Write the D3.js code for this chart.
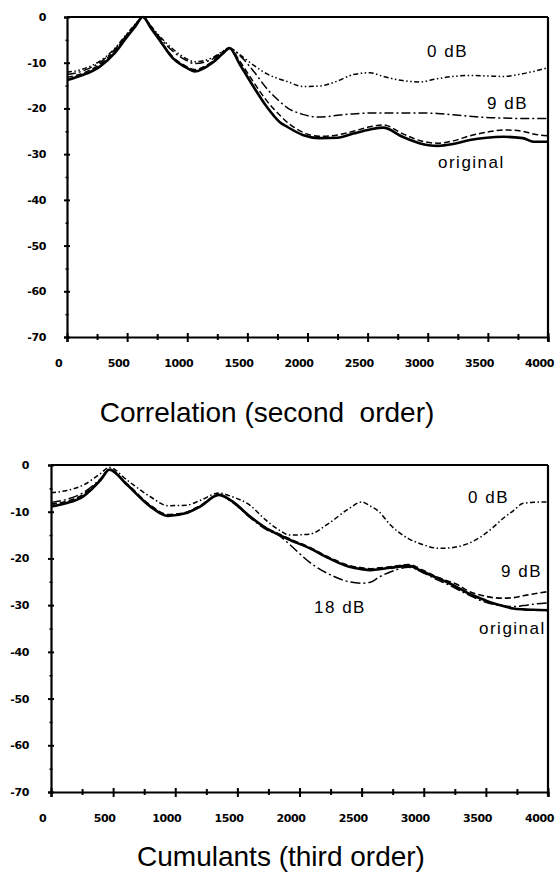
<!DOCTYPE html>
<html>
<head>
<meta charset="utf-8">
<script src="https://cdn.jsdelivr.net/npm/d3@7"></script>
<style>
  body { margin: 0; background: #fff; }
  .tick text { font-family: "DejaVu Sans", sans-serif; font-weight: bold; font-size: 11px; letter-spacing: -0.4px; }
  .lbl { font-family: "Liberation Sans", Arial, sans-serif; font-size: 17px; letter-spacing: 1.5px; }
  .title { font-family: "Liberation Sans", Arial, sans-serif; font-size: 28px; }
</style>
</head>
<body>
<svg id="chart" width="555" height="874"></svg>
<script>
// --- Correlation (second order) ---
var corrFreq = [0,130,270,400,500,570,630,700,750,880,1000,1060,1210,1300,1350,1440,1550,1660,1770,1830,1960,2100,2250,2380,2520,2630,2790,2930,3080,3210,3350,3490,3630,3790,3880,4000];
var corrOriginal = [-13.8,-12.7,-10.9,-7.8,-4.3,-2,0,-2.5,-4.3,-9,-11.2,-11.9,-10,-7.9,-6.8,-10.5,-15.2,-19.6,-23,-24,-25.8,-26.5,-26.4,-25.5,-24.6,-24.2,-26.2,-27.6,-28.2,-27.8,-26.9,-26.4,-26.2,-26.5,-27.3,-27.3];
var corr18dB = [-13.2,-12.3,-10.4,-7.3,-3.9,-1.7,0,-2.3,-4.1,-8.7,-10.9,-11.5,-9.7,-7.7,-6.8,-9.8,-14.2,-18.3,-21.5,-23,-25.2,-26.1,-25.8,-25,-24,-23.6,-25.5,-27,-27.6,-27.1,-26,-25.2,-24.7,-25,-25.6,-26];
var corr9dB = [-12.6,-11.8,-10,-7,-3.8,-1.6,0,-2.2,-3.8,-7.5,-9.6,-10.2,-9.2,-7.5,-6.8,-8.5,-11.8,-15.6,-18.5,-19.8,-21.3,-21.9,-21.5,-21.2,-21,-21,-21,-21,-21.1,-21.4,-21.7,-22,-22.1,-22.2,-22.2,-22.2];
var corr0dB = [-12.1,-11.4,-9.7,-6.8,-3.6,-1.5,0,-2,-3.6,-7,-9.2,-9.8,-8.9,-7.4,-6.8,-8.3,-10.5,-12.4,-13.6,-14.1,-15.2,-15.1,-14,-12.6,-12.2,-13,-13.9,-14.2,-13.5,-13,-12.8,-12.9,-13,-12.4,-11.9,-11.1];

// --- Cumulants (third order) ---
var cumFreq = [0,120,260,400,470,610,800,940,1090,1200,1350,1460,1600,1730,1840,1920,2080,2240,2400,2500,2570,2640,2730,2880,2990,3110,3180,3270,3360,3480,3560,3640,3720,3800,3880,4000];
var cumOriginal = [-8.9,-8.2,-6.7,-3.2,-1,-4.2,-8.9,-10.9,-10.3,-8.9,-6.4,-7.8,-11,-13.5,-15,-16,-17.8,-20,-21.8,-22.3,-22.5,-22.3,-22,-21.6,-22.8,-24.2,-25,-26.2,-27.5,-28.8,-29.6,-30.2,-30.7,-30.9,-31,-31.1];
var cum9dB = [-8.4,-7.8,-6.3,-3,-1,-4,-8.6,-10.6,-10.1,-8.7,-6.4,-7.9,-11,-13.4,-14.8,-15.8,-17.6,-19.8,-21.5,-22,-22.2,-22,-21.8,-21.3,-22.5,-24,-24.7,-25.6,-27,-28,-28.4,-28.5,-28.4,-28,-27.6,-27.1];
var cum18dB = [-8,-7.4,-5.9,-2.9,-1,-4.1,-8.8,-10.8,-10.2,-8.8,-6.4,-8,-11.2,-13.8,-15.2,-17,-20.8,-23.4,-25,-25.3,-25.1,-24,-22.9,-21.9,-23,-24.6,-25.4,-26.6,-27.8,-29.2,-29.8,-30.2,-30.3,-30.1,-29.8,-29.5];
var cum0dB = [-5.9,-5.5,-4.3,-1.8,-0.5,-3.2,-6.8,-8.7,-8.6,-7.6,-6,-6.8,-8.6,-11.8,-14,-15,-14.8,-12.4,-9.3,-7.9,-8.8,-10,-12.8,-15.8,-17,-17.8,-17.8,-17.5,-16.8,-15,-13.3,-11.4,-9.8,-8.2,-8,-7.9];

var xMajor = [0,500,1000,1500,2000,2500,3000,3500,4000];
var xMinor = [250,750,1250,1750,2250,2750,3250,3750];
var yMajor = [0,-10,-20,-30,-40,-50,-60,-70];
var yMinor = [-5,-15,-25,-35,-45,-55,-65];

var svg = d3.select("#chart");

function drawPanel(p) {
  var x = d3.scaleLinear().domain([0, 4000]).range([p.left, p.right]);
  var y = d3.scaleLinear().domain([-70, 0]).range([p.bottom, p.top]);
  var g = svg.append("g");

  // frame: top and right
  g.append("line").attr("x1", p.left).attr("x2", p.right).attr("y1", p.top).attr("y2", p.top)
    .attr("stroke", "#000").attr("stroke-width", 2);
  g.append("line").attr("x1", p.right).attr("x2", p.right).attr("y1", p.top).attr("y2", p.bottom + 4)
    .attr("stroke", "#000").attr("stroke-width", 2.2);

  // x axis
  var xa = g.append("g").attr("transform", "translate(0," + p.bottom + ")")
    .call(d3.axisBottom(x).tickValues(xMajor).tickFormat(function (d) { return String(d); }).tickSize(5));
  xa.select(".domain").attr("stroke-width", 2.2);
  xa.selectAll(".tick line").attr("y1", -4).attr("y2", 5).attr("stroke-width", 2);
  xa.selectAll(".tick text").attr("y", 22).attr("dx", -9).attr("dy", "0.71em").attr("font-size", null).attr("font-family", null);
  var xm = g.append("g").attr("transform", "translate(0," + p.bottom + ")")
    .call(d3.axisBottom(x).tickValues(xMinor).tickFormat("").tickSize(3));
  xm.select(".domain").remove();
  xm.selectAll(".tick line").attr("y1", -3).attr("y2", 3).attr("stroke-width", 2);

  // y axis
  var ya = g.append("g").attr("transform", "translate(" + p.left + ",0)")
    .call(d3.axisLeft(y).tickValues(yMajor).tickFormat(function (d) { return String(d); }).tickSize(3));
  ya.select(".domain").attr("stroke-width", 2.2);
  ya.selectAll(".tick line").attr("x1", -3).attr("x2", 3).attr("stroke-width", 2);
  ya.selectAll(".tick text").attr("x", -p.labelGap).attr("font-size", null).attr("font-family", null);
  var ym = g.append("g").attr("transform", "translate(" + p.left + ",0)")
    .call(d3.axisLeft(y).tickValues(yMinor).tickFormat("").tickSize(2));
  ym.select(".domain").remove();
  ym.selectAll(".tick line").attr("x1", -1.5).attr("x2", 1.5).attr("stroke-width", 1.5);

  var line = d3.line()
    .x(function (d) { return x(d[0]); })
    .y(function (d) { return y(d[1]); })
    .curve(d3.curveMonotoneX);

  p.series.forEach(function (s) {
    var pts = p.freq.map(function (f, i) { return [f, s.values[i]]; });
    g.append("path")
      .attr("d", line(pts))
      .attr("fill", "none")
      .attr("stroke", "#000")
      .attr("stroke-width", s.width)
      .attr("stroke-dasharray", s.dash);
  });

  p.labels.forEach(function (l) {
    g.append("text").attr("class", "lbl").attr("x", l.x).attr("y", l.y).text(l.text);
  });

  g.append("text").attr("class", "title")
    .attr("x", p.titleX).attr("y", p.titleY)
    .attr("text-anchor", "middle")
    .style("white-space", "pre")
    .text(p.title);
}

drawPanel({
  left: 67, right: 548, top: 17, bottom: 337, labelGap: 21,
  freq: corrFreq,
  series: [
    { values: corr0dB, width: 1.5, dash: "5,2.5,1.5,2.5,1.5,2.5" },
    { values: corr9dB, width: 1.5, dash: "9,3,2,3" },
    { values: corr18dB, width: 1.5, dash: "6,3" },
    { values: corrOriginal, width: 2.6, dash: null }
  ],
  labels: [
    { text: "0 dB", x: 427, y: 57 },
    { text: "9 dB", x: 487, y: 109 },
    { text: "original", x: 438, y: 168 }
  ],
  title: "Correlation (second  order)", titleX: 267, titleY: 422
});

drawPanel({
  left: 51, right: 548, top: 465, bottom: 792, labelGap: 22,
  freq: cumFreq,
  series: [
    { values: cum0dB, width: 1.5, dash: "5,2.5,1.5,2.5" },
    { values: cum18dB, width: 1.5, dash: "10,3,2,3" },
    { values: cum9dB, width: 1.6, dash: "6,3" },
    { values: cumOriginal, width: 2.6, dash: null }
  ],
  labels: [
    { text: "0 dB", x: 468, y: 503 },
    { text: "9 dB", x: 501, y: 577 },
    { text: "18 dB", x: 314, y: 613 },
    { text: "original", x: 479, y: 634 }
  ],
  title: "Cumulants (third order)", titleX: 281, titleY: 866
});
</script>
</body>
</html>
